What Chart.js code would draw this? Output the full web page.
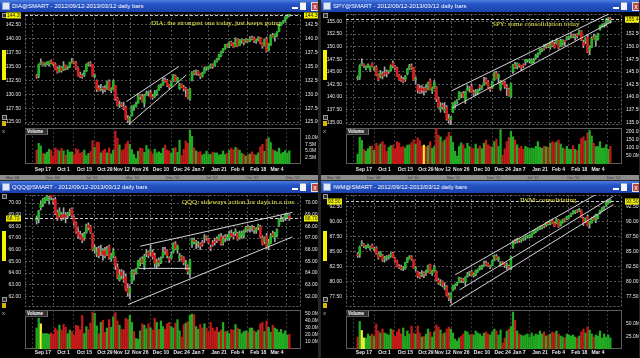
<!DOCTYPE html>
<html><head><meta charset="utf-8">
<script src="https://cdn.jsdelivr.net/npm/chart.js@4.4.1/dist/chart.umd.min.js"></script>
<style>
html,body{margin:0;padding:0;}
body{width:640px;height:358px;overflow:hidden;background:#262626;position:relative;font-family:'Liberation Sans',Arial,sans-serif;}
.win{position:absolute;width:318px;height:180px;background:#000;overflow:hidden;}
.title{position:absolute;left:0;top:0;width:318px;height:12px;background:linear-gradient(#4c7fe2 0%,#2553c6 35%,#1b42ab 100%);}
.tt{position:absolute;left:12px;top:2px;font-size:6px;line-height:8px;color:#fff;white-space:nowrap;}
.ico{position:absolute;left:2px;top:2px;width:6px;height:6px;background:#dfe8f8;border:1px solid #8aa0d0;}
.bmin{position:absolute;left:292px;top:7px;width:6px;height:2px;background:#fff;}
.bmax{position:absolute;left:300px;top:2px;width:6px;height:7px;background:#f4f6fb;border-top:1px solid #9ab;}
.bcls{position:absolute;left:311px;top:2px;width:6px;height:7px;background:#b84a4a;border:1px solid #ddd;color:#fff;font-size:7px;line-height:7px;text-align:center;}
.gsq{position:absolute;left:2px;width:3px;height:3px;border:1px solid #9a9a9a;background:#303030;}
.gbar{position:absolute;left:2px;top:50px;width:4px;height:30px;background:#f4f400;}
.glock{position:absolute;left:2px;width:4px;height:5px;background:#d8b800;}
.gx{position:absolute;left:2px;font-size:6px;color:#bbb;line-height:6px;}
.vlab{position:absolute;left:25px;width:20px;height:5px;background:#2e2e2e;border-right:1px solid #777;border-bottom:1px solid #555;color:#fff;font-size:4.5px;line-height:5px;font-weight:bold;padding-left:2px;}
.note{position:absolute;font-family:'Liberation Serif','Times New Roman',serif;font-size:7px;line-height:8px;color:#f0f055;white-space:nowrap;}
.scroll{position:absolute;left:0;width:318px;height:5px;background:#8c8c8c;}
.scroll span{position:absolute;top:0;font-size:4px;line-height:5px;color:#333;}
canvas{position:absolute;left:0;}
</style></head><body>
<script>
// ---------- categories (trading days) ----------
const DATES = ['Sep 12','Sep 13','Sep 14','Sep 17','Sep 18','Sep 19','Sep 20','Sep 21','Sep 24','Sep 25','Sep 26','Sep 27','Sep 28',
'Oct 1','Oct 2','Oct 3','Oct 4','Oct 5','Oct 8','Oct 9','Oct 10','Oct 11','Oct 12','Oct 15','Oct 16','Oct 17','Oct 18','Oct 19','Oct 22','Oct 23','Oct 24','Oct 25','Oct 26','Oct 31',
'Nov 1','Nov 2','Nov 5','Nov 6','Nov 7','Nov 8','Nov 9','Nov 12','Nov 13','Nov 14','Nov 15','Nov 16','Nov 19','Nov 20','Nov 21','Nov 23','Nov 26','Nov 27','Nov 28','Nov 29','Nov 30',
'Dec 3','Dec 4','Dec 5','Dec 6','Dec 7','Dec 10','Dec 11','Dec 12','Dec 13','Dec 14','Dec 17','Dec 18','Dec 19','Dec 20','Dec 21','Dec 24','Dec 26','Dec 27','Dec 28','Dec 31',
'Jan 2','Jan 3','Jan 4','Jan 7','Jan 8','Jan 9','Jan 10','Jan 11','Jan 14','Jan 15','Jan 16','Jan 17','Jan 18','Jan 22','Jan 23','Jan 24','Jan 25','Jan 28','Jan 29','Jan 30','Jan 31',
'Feb 1','Feb 4','Feb 5','Feb 6','Feb 7','Feb 8','Feb 11','Feb 12','Feb 13','Feb 14','Feb 15','Feb 19','Feb 20','Feb 21','Feb 22','Feb 25','Feb 26','Feb 27','Feb 28',
'Mar 1','Mar 4','Mar 5','Mar 6','Mar 7','Mar 8','Mar 11','Mar 12'];
const TICK_LABELS = ['Sep 17','Oct 1','Oct 15','Oct 29','Nov 12','Nov 26','Dec 10','Dec 24','Jan 7','Jan 21','Feb 4','Feb 18','Mar 4'];
const TICK_POS = [3,13,23,33,41,50,60,70,78,88,97,107,116];
const SCROLL_LABELS = ["Mar '06","Dec '08","Jul '10","Mar '12","Dec '12","Jul '12","Oct '12","Dec '12"];

// ---------- DIA ----------
const DIA_O = [133.3,133.3,135.4,135.7,135.3,135.5,135.4,136.0,135.6,135.5,134.6,134.1,134.8,
134.4,135.2,134.8,134.9,135.8,135.9,135.7,134.6,133.5,133.3,133.4,134.2,135.4,135.5,135.4,133.3,132.5,131.1,130.9,131.1,131.1,
131.0,132.3,130.7,131.0,131.6,129.3,128.0,128.2,127.8,127.7,125.7,125.3,126.1,127.8,127.8,128.4,129.9,129.6,128.4,129.9,130.2,
130.3,129.6,129.5,130.1,130.8,131.5,131.7,132.6,132.5,131.7,131.4,132.4,133.3,132.4,131.0,131.8,131.3,131.0,130.8,129.2,
132.5,134.0,133.8,134.2,133.7,133.2,133.9,134.6,134.8,134.9,135.3,135.1,135.9,136.4,137.0,137.7,138.2,138.9,138.7,139.4,139.0,
138.6,139.9,138.8,139.7,139.8,139.4,139.8,139.6,140.2,140.1,139.6,139.8,140.2,139.2,138.8,140.0,137.9,138.9,140.6,
140.3,140.7,141.3,142.4,142.9,143.2,143.8,144.3];
const DIA_H = [133.6,135.5,136.4,135.8,135.7,135.9,136.0,136.2,135.8,135.7,134.9,135.2,135.0,
135.9,135.3,135.1,135.8,136.5,136.0,135.9,134.8,134.0,133.7,134.3,135.5,135.8,135.9,135.4,133.7,132.6,131.6,131.8,131.4,131.6,
132.4,132.6,131.2,132.6,131.6,129.5,128.8,128.5,128.6,127.9,126.2,126.0,128.0,128.1,128.6,130.1,130.0,130.0,130.0,130.6,130.6,
130.8,130.0,130.7,130.8,131.7,131.9,133.0,133.0,132.7,131.8,132.4,133.6,133.5,133.1,132.0,131.9,131.6,131.3,130.9,131.1,
134.1,134.3,134.4,134.3,133.8,134.0,134.9,134.9,135.1,135.5,135.5,136.1,136.5,137.2,137.8,138.3,139.0,139.1,139.5,139.6,139.3,
140.2,140.0,139.9,140.0,139.9,140.0,139.9,140.4,140.5,140.3,140.0,140.4,140.3,139.3,140.0,140.3,139.2,140.8,141.0,
140.9,141.3,142.6,143.0,143.3,144.0,144.5,144.5];
const DIA_L = [132.9,133.0,135.3,135.2,135.1,135.3,135.1,135.5,135.2,134.4,133.8,134.0,134.0,
134.3,134.4,134.5,134.8,135.6,135.5,134.5,133.3,133.0,132.9,133.2,134.1,135.1,135.1,133.2,133.0,130.5,130.6,130.6,130.2,130.5,
130.9,130.7,130.3,130.9,128.9,127.9,127.6,127.8,127.2,125.5,124.9,124.6,126.1,127.1,127.7,128.4,129.1,128.6,127.7,129.8,129.7,
129.5,129.1,129.4,129.8,130.7,131.2,131.6,132.2,131.4,131.0,131.3,132.3,132.3,132.1,130.9,131.2,130.6,129.6,129.2,128.9,
132.4,133.5,133.5,133.4,132.8,133.1,133.8,134.3,134.5,134.7,134.7,135.0,135.8,136.2,136.8,137.5,138.1,138.5,138.4,138.8,138.4,
138.6,138.6,138.8,139.2,138.9,139.3,139.4,139.5,139.8,139.3,139.2,139.6,139.1,138.3,138.7,137.7,137.8,138.8,140.3,
139.6,140.4,141.3,142.4,142.8,143.0,143.7,144.0];
const DIA_C = [133.2,135.3,135.8,135.4,135.5,135.7,135.9,135.7,135.5,134.5,134.0,134.8,134.3,
135.1,134.7,134.9,135.7,136.0,135.7,134.6,133.4,133.2,133.2,134.1,135.4,135.5,135.4,133.3,133.4,130.9,130.7,130.9,131.0,130.9,
132.2,130.8,131.0,132.4,129.2,128.0,128.1,128.1,127.5,125.6,125.3,125.8,127.9,127.8,128.3,130.0,129.6,128.7,129.8,130.1,130.2,
129.6,129.4,130.2,130.7,131.5,131.6,132.4,132.4,131.6,131.3,132.3,133.4,132.4,133.0,131.8,131.3,131.0,130.9,129.3,131.0,
134.0,133.8,134.3,133.7,133.2,133.8,134.6,134.8,135.0,135.3,135.0,135.9,136.4,137.0,137.7,138.2,138.9,138.7,139.4,139.0,138.5,
140.0,138.7,139.7,139.8,139.3,139.8,139.6,140.1,140.1,139.6,139.7,140.2,139.2,138.7,139.9,137.8,138.9,140.6,140.4,
140.8,141.2,142.4,142.9,143.2,143.9,144.4,144.3];
const DIA_V = [5.2,7.8,6.8,4.0,3.8,4.5,5.6,5.2,3.2,6.1,5.4,4.9,5.9,
5.0,3.4,5.3,4.5,4.6,3.5,5.8,5.4,4.0,4.5,5.3,3.2,4.0,4.7,8.8,6.3,8.3,8.2,4.2,5.0,5.6,
4.2,6.0,3.8,5.2,12.4,9.8,7.2,5.1,5.5,7.6,8.6,7.4,5.4,3.6,2.1,4.8,6.0,5.8,4.4,7.0,5.6,
4.9,3.8,5.6,4.2,4.6,4.0,6.0,7.1,5.3,4.9,4.0,5.9,6.2,4.4,9.0,3.2,5.5,8.7,7.8,12.8,
10.5,6.1,5.0,4.4,4.7,3.4,3.8,4.9,3.6,3.7,4.5,4.2,4.2,3.4,3.6,4.9,3.6,4.0,5.2,6.0,5.4,
6.3,5.8,5.2,4.0,3.6,3.0,3.5,3.8,4.6,3.6,3.4,4.2,6.5,7.5,4.8,9.4,9.9,8.1,5.4,
5.0,4.6,6.0,3.9,4.4,5.1,4.1,5.0];
const DIA_TICKS = [125,127.5,130,132.5,135,137.5,140,142.5];
const DIA_VTICKS = [2.5,5,7.5,10];
const DIA_LINES = [[43.3,128.7,68.6,135.0],[44.5,124.6,72.3,133.5]];

// ---------- SPY ----------
const SPY_O = [143.7,143.9,146.3,146.5,145.7,146.2,145.5,146.7,145.4,145.9,144.4,144.0,144.6,
144.8,145.0,145.1,145.3,146.8,146.1,145.7,144.4,143.6,143.5,143.5,144.6,145.6,146.2,145.8,143.5,142.3,141.7,141.8,141.6,141.8,
141.5,143.4,141.2,141.8,142.0,139.7,137.7,138.4,137.3,138.0,135.7,135.5,137.0,138.8,139.0,139.6,140.6,140.7,139.5,141.4,141.6,
142.1,141.0,140.9,140.9,142.2,141.6,142.3,143.5,143.0,141.9,141.8,143.4,144.8,143.8,141.6,142.9,142.9,142.1,141.5,140.1,
145.1,146.4,146.1,146.4,146.2,146.3,147.0,147.3,147.2,146.7,147.1,147.7,148.3,148.7,149.3,149.7,150.0,150.4,149.9,150.8,150.4,
150.6,151.2,150.0,150.7,151.2,151.5,151.8,151.9,152.3,151.9,152.4,152.4,153.1,150.8,151.1,151.9,149.3,149.9,151.9,
151.2,151.6,153.4,154.3,154.2,154.9,154.9,155.5];
const SPY_H = [144.2,146.4,147.6,146.6,146.2,146.6,146.2,146.8,146.0,146.2,144.6,145.3,145.0,
146.0,145.4,145.3,146.4,147.2,146.3,145.9,144.5,144.2,143.9,144.3,145.7,146.5,146.6,145.9,144.0,142.5,142.3,142.3,142.0,142.5,
143.0,143.6,142.0,143.3,142.1,140.0,138.9,138.8,138.9,138.3,136.6,136.2,138.9,139.2,139.5,141.1,140.9,141.1,141.2,142.3,142.1,
142.6,141.4,141.5,141.6,142.4,142.3,143.9,143.8,143.3,142.0,143.2,145.0,145.1,144.6,143.3,143.1,143.2,142.5,141.8,142.8,
146.5,146.9,146.8,146.6,146.3,146.6,147.5,147.5,147.6,147.6,147.7,148.5,148.8,149.6,149.7,150.4,150.5,150.7,151.0,151.3,150.9,
151.6,151.3,151.5,151.4,151.3,152.0,152.1,152.6,152.5,152.5,152.6,153.3,153.2,151.3,151.8,152.4,150.2,152.0,152.5,
152.2,152.7,154.2,154.5,154.7,155.6,155.8,155.8];
const SPY_L = [143.4,143.5,146.2,145.9,145.4,145.9,145.1,146.0,145.3,144.2,143.2,143.8,143.6,
144.2,144.0,144.7,145.2,145.8,145.4,144.1,143.3,143.1,142.8,143.1,144.4,145.5,145.5,143.3,142.6,140.8,140.7,140.8,140.4,141.0,
141.4,141.4,140.7,141.7,139.1,137.8,137.0,137.7,136.9,135.4,134.8,134.4,136.9,137.8,138.6,139.5,139.9,139.9,138.7,141.3,141.0,
140.9,140.3,140.4,140.6,141.2,141.5,142.3,142.6,141.8,141.1,141.7,143.3,143.6,142.9,141.3,142.6,141.7,140.3,140.2,139.9,
144.7,145.7,145.6,145.9,145.2,145.8,146.4,146.9,146.8,146.6,146.8,147.5,147.9,148.5,149.0,149.3,149.7,149.8,149.5,150.0,149.7,
150.5,149.5,150.0,150.3,150.2,151.3,151.4,151.7,151.8,151.3,151.7,152.3,151.2,149.8,150.6,148.8,148.4,149.8,151.5,
150.1,151.3,153.3,153.9,153.9,154.1,154.8,154.7];
const SPY_C = [143.8,146.1,146.7,146.2,146.0,146.2,146.1,146.1,145.8,144.3,143.4,144.8,144.2,
144.5,144.7,145.2,146.2,146.2,145.7,144.2,143.4,143.4,143.0,144.1,145.6,146.2,145.8,143.4,143.5,141.4,141.0,141.4,141.3,141.3,
142.9,141.5,141.8,142.9,139.6,137.9,138.1,138.1,137.6,135.6,135.4,136.1,138.8,138.9,139.2,141.0,140.7,140.0,141.1,141.7,141.7,
141.0,140.8,141.0,141.5,141.9,142.0,142.9,142.9,142.0,141.5,143.1,144.8,143.7,144.5,143.1,142.8,142.1,141.9,140.3,142.7,
146.4,146.0,146.7,146.3,145.8,146.2,147.3,147.3,147.2,147.3,147.4,148.2,148.7,149.4,149.6,149.6,150.4,150.1,150.9,150.3,149.9,
151.4,149.7,151.2,151.3,151.0,151.9,151.8,152.0,152.1,152.2,152.1,153.2,151.3,150.3,151.7,148.9,149.8,151.7,151.6,
152.0,152.6,154.1,154.3,154.5,155.2,155.7,155.4];
const SPY_V = [62,168,148,90,80,96,110,112,85,130,115,126,140,
120,80,105,115,118,95,140,132,104,110,100,118,120,133,151,126,163,146,112,118,108,
115,140,98,110,222,180,170,140,150,170,198,175,135,80,50,110,132,120,96,130,110,
102,96,125,96,112,96,130,150,120,110,105,140,155,110,215,55,95,140,165,205,
170,150,120,100,110,92,110,104,96,100,96,110,140,104,98,112,108,104,130,140,132,
138,150,125,100,93,110,90,92,115,92,85,124,160,170,145,195,210,175,130,
108,110,140,98,100,120,92,110];
const SPY_TICKS = [135,137.5,140,142.5,145,147.5,150,152.5,155];
const SPY_VTICKS = [50,100,150,200];
const SPY_LINES = [[45.6,141.3,122.7,156.8],[45.6,137.8,122.7,155.0]];

// ---------- QQQ ----------
const QQQ_O = [68.5,68.7,69.6,69.9,70.1,70.3,70.2,70.7,70.2,70.3,69.2,68.9,69.0,
69.0,69.0,68.9,69.2,69.5,68.8,68.3,67.5,67.3,67.1,67.0,67.5,68.1,68.0,67.4,66.0,65.6,66.1,65.9,65.9,65.9,
65.6,66.3,65.2,65.5,65.3,64.5,63.4,64.1,63.5,63.7,62.7,62.3,63.2,64.1,64.0,64.4,64.9,65.2,64.6,65.6,65.8,
65.8,65.8,65.5,64.7,65.1,64.9,65.4,66.0,65.9,65.3,65.3,65.8,66.5,66.0,65.2,65.4,65.3,64.8,64.6,64.0,
66.4,66.8,66.6,66.4,66.5,66.6,67.0,67.1,66.9,66.2,66.6,66.7,66.9,66.9,67.1,66.6,67.1,66.9,67.0,67.4,67.2,
67.4,67.4,67.0,67.3,67.2,67.7,67.9,67.8,67.8,67.9,67.6,67.9,68.0,67.0,66.7,67.2,66.3,66.6,67.4,
67.0,67.3,68.1,68.6,68.6,68.8,68.8,68.9];
const QQQ_H = [68.9,69.4,70.2,70.4,70.5,70.8,70.6,70.9,70.4,70.5,69.4,69.6,69.2,
69.6,69.2,69.2,69.5,69.6,68.9,68.4,67.9,67.6,67.4,67.5,68.2,68.3,68.1,67.4,66.4,66.2,66.3,66.4,66.1,66.2,
66.3,66.4,65.7,66.1,65.4,64.8,64.3,64.3,64.2,63.9,63.1,62.9,64.3,64.3,64.4,65.1,65.3,65.4,65.6,66.0,65.9,
66.4,66.0,65.7,65.2,65.3,65.4,66.2,66.2,66.0,65.4,65.8,66.6,66.7,66.4,65.7,65.5,65.4,65.1,64.7,65.2,
67.0,67.0,66.8,66.7,66.6,66.8,67.3,67.2,67.0,66.4,66.8,67.0,67.1,67.3,67.4,67.2,67.3,67.3,67.6,67.7,67.5,
67.8,67.5,67.6,67.6,67.7,68.0,68.1,68.0,68.1,68.0,67.9,68.2,68.1,67.2,67.1,67.4,66.9,67.4,67.6,
67.5,67.8,68.7,68.9,68.8,69.1,69.1,69.0];
const QQQ_L = [68.2,68.3,69.4,69.7,70.0,70.2,69.9,70.3,69.9,69.0,68.5,68.8,68.5,
68.6,68.3,68.7,68.9,68.8,68.1,67.4,67.0,66.9,66.6,66.8,67.4,67.7,67.4,65.9,65.7,65.4,65.3,65.5,65.1,65.3,
65.5,65.2,65.0,65.3,64.3,63.5,63.3,63.5,63.2,62.5,62.0,61.8,63.1,63.4,63.9,64.4,64.6,64.8,64.3,65.4,65.3,
65.5,65.2,64.5,64.4,64.6,64.8,65.3,65.6,65.3,64.9,65.2,65.7,66.0,65.7,65.0,65.1,64.7,64.3,63.9,63.6,
66.2,66.5,66.1,66.2,66.0,66.3,66.6,66.8,66.5,65.9,66.3,66.4,66.6,66.8,66.4,66.4,66.7,66.8,66.8,67.1,66.9,
67.2,66.8,66.9,67.0,67.0,67.5,67.6,67.5,67.6,67.4,67.4,67.7,67.0,66.4,66.5,66.1,66.0,66.5,67.1,
66.7,67.1,68.0,68.4,68.4,68.5,68.7,68.5];
const QQQ_C = [68.7,69.3,69.9,70.3,70.4,70.6,70.3,70.5,70.1,69.1,68.6,69.3,68.7,
68.8,68.8,69.1,69.3,68.9,68.3,67.5,67.2,67.0,66.8,67.4,68.1,67.9,67.5,66.0,66.2,65.8,65.5,65.9,65.6,65.5,
66.1,65.3,65.5,65.9,64.6,63.6,63.9,63.8,63.4,62.6,62.3,62.7,64.2,64.0,64.3,65.0,65.2,64.9,65.4,65.6,65.5,
65.9,65.4,64.8,65.0,64.9,65.2,65.8,65.9,65.5,65.1,65.6,66.5,66.1,66.3,65.5,65.2,64.9,64.8,64.1,65.1,
66.9,66.7,66.6,66.5,66.3,66.5,67.1,67.0,66.6,66.1,66.4,66.6,66.8,67.2,66.5,66.9,67.0,67.1,67.4,67.2,67.1,
67.6,66.9,67.4,67.4,67.6,67.9,67.8,67.8,67.9,67.7,67.8,68.1,67.1,66.5,67.0,66.2,66.6,67.2,67.2,
67.4,67.7,68.6,68.6,68.7,68.9,69.0,68.7];
const QQQ_V = [30,44,36,22,22,22,21,23,21,30,27,34,27,
35,31,22,27,25,20,34,33,28,48,22,32,28,37,53,51,33,22,38,41,24,
30,42,31,46,52,40,34,28,28,44,42,48,38,25,15,14,26,36,34,29,36,
30,27,44,38,28,40,32,28,36,38,32,30,37,42,26,17,35,37,39,48,
50,49,32,28,35,30,36,30,24,38,30,26,31,24,27,38,25,25,22,28,27,
35,30,28,22,25,26,24,30,30,26,24,27,36,38,25,40,31,24,34,
30,28,24,28,22,26,20,21];
const QQQ_TICKS = [62,63,64,65,66,67,68,69,70];
const QQQ_VTICKS = [10,20,30,40,50];
const QQQ_LINES = [[50,66.3,123.5,69.2],[44.1,61.3,123.5,67.1],[49.3,64.4,74.2,64.4]];

// ---------- IWM ----------
const IWM_O = [84.6,84.5,86.2,86.3,85.7,86.0,85.6,86.1,85.4,85.7,84.6,84.3,84.4,
83.8,84.0,84.1,84.3,84.8,84.0,83.5,82.5,82.5,82.2,82.3,83.3,83.9,84.2,83.7,82.2,81.7,81.3,81.1,81.5,81.5,
81.7,82.9,81.4,81.9,81.8,80.3,79.7,80.1,79.0,79.2,77.8,77.3,78.6,79.3,79.6,79.9,80.5,80.3,80.0,81.0,81.4,
81.7,81.1,81.2,81.8,82.3,82.2,82.7,83.2,83.0,82.5,82.8,83.6,84.3,83.8,82.8,83.3,83.1,82.8,82.6,82.2,
85.8,86.8,86.8,87.0,86.9,87.1,87.4,87.6,87.5,87.6,88.1,88.4,88.7,88.9,89.1,89.4,89.4,89.8,89.7,90.2,89.8,
89.8,90.3,89.4,90.0,90.4,90.5,90.8,91.0,91.5,91.6,91.9,91.9,91.9,90.6,90.2,90.9,89.6,89.9,90.7,
90.3,90.8,91.4,92.0,92.3,92.8,93.1,93.5];
const IWM_H = [84.9,86.0,86.9,86.4,86.1,86.3,86.0,86.3,85.8,85.9,84.9,85.1,84.6,
84.3,84.4,84.5,84.9,85.0,84.1,83.6,82.9,82.8,82.6,83.3,84.1,84.4,84.4,83.7,82.6,81.8,81.6,81.9,81.7,82.0,
82.8,83.0,82.0,82.8,81.9,80.6,80.4,80.2,79.9,79.4,78.2,78.2,79.5,79.7,80.0,80.8,80.7,80.6,80.9,81.6,81.8,
82.0,81.5,82.0,82.2,82.7,82.8,83.5,83.5,83.2,82.8,83.6,84.5,84.6,84.2,83.4,83.4,83.2,83.2,82.8,84.3,
86.9,87.1,87.3,87.2,87.2,87.4,87.7,87.8,87.9,88.2,88.6,88.8,89.0,89.3,89.4,89.6,89.9,90.1,90.3,90.5,90.0,
90.6,90.4,90.2,90.5,90.6,91.0,91.1,91.5,91.9,92.0,92.1,92.3,92.0,90.8,90.7,91.2,90.1,90.8,91.0,
91.3,91.2,92.0,92.4,92.6,93.3,93.7,93.8];
const IWM_L = [84.1,84.1,86.0,85.7,85.5,85.7,85.3,85.6,85.2,84.6,83.8,84.2,83.4,
83.3,83.6,83.8,84.1,84.1,83.3,82.5,82.2,82.0,81.9,82.1,83.2,83.8,83.6,82.3,81.8,80.7,80.6,80.9,80.7,81.1,
81.6,81.4,81.1,81.8,80.2,79.6,79.4,79.2,78.7,77.7,76.9,76.5,78.5,78.8,79.4,79.9,79.9,79.9,79.4,80.8,81.0,
81.0,80.8,81.0,81.6,82.0,82.1,82.6,82.7,82.5,82.2,82.7,83.5,83.7,83.4,82.6,82.9,82.4,82.1,82.2,82.0,
85.6,86.4,86.5,86.6,86.6,86.9,87.0,87.3,87.3,87.4,88.0,88.2,88.5,88.7,88.8,89.0,89.2,89.5,89.5,89.7,89.2,
89.7,89.1,89.3,89.8,90.0,90.4,90.6,90.9,91.3,91.4,91.6,91.7,90.7,89.4,89.9,89.3,89.0,89.8,90.3,
89.9,90.5,91.3,91.8,92.1,92.6,93.0,93.2];
const IWM_C = [84.4,85.8,86.5,86.0,85.9,86.1,85.9,85.7,85.6,84.7,84.0,84.9,83.6,
83.9,84.1,84.3,84.6,84.2,83.5,82.6,82.4,82.2,82.3,83.2,84.0,84.2,83.8,82.4,82.3,81.0,80.8,81.4,81.3,81.5,
82.7,81.5,81.9,82.5,80.4,79.8,80.0,79.5,79.0,77.8,77.3,78.1,79.4,79.5,79.8,80.7,80.3,80.2,80.8,81.3,81.6,
81.1,81.2,81.9,82.1,82.3,82.5,83.0,82.9,82.6,82.6,83.5,84.4,83.8,84.1,83.2,83.0,82.8,82.8,82.3,84.2,
86.8,86.7,87.2,86.9,87.0,87.2,87.5,87.6,87.7,88.1,88.4,88.6,88.9,89.0,89.3,89.3,89.8,89.7,90.2,89.8,89.3,
90.4,89.2,90.1,90.4,90.3,90.9,91.0,91.4,91.6,91.9,91.8,92.0,90.8,89.8,90.6,89.4,89.9,90.6,90.4,
91.2,91.0,91.9,92.2,92.5,93.2,93.6,93.5];
const IWM_V = [24,55,37,22,22,30,26,30,25,50,36,32,40,
32,30,28,40,38,25,34,40,30,42,25,36,30,46,32,30,46,32,24,25,30,
40,34,24,34,48,44,38,30,32,40,44,40,32,20,16,22,26,30,36,34,28,
30,28,36,32,30,26,32,34,30,28,34,40,36,28,38,12,22,36,40,45,
74,57,36,30,28,26,28,30,24,32,26,30,28,36,30,34,26,28,30,34,32,
36,30,26,24,22,30,28,26,28,24,22,26,34,40,32,44,38,30,24,
28,26,36,22,30,24,28,22];
const IWM_TICKS = [77.5,80,82.5,85,87.5,90,92.5];
const IWM_VTICKS = [25,50];
const IWM_LINES = [[47.1,81.2,116.1,94.8],[49.3,78.7,123.5,94.3],[44.5,76.0,123.5,92.9]];

// ---------- layout / style ----------
const UP='#22b422', DN='#d41c1c', WICK='#a6a6a6', VUP='#23aa23', VDN='#c21a1a', VHL='#f2f030';
const GRID='rgba(150,150,150,0.55)';
const ROWS=[{pTop:14,pBot:125,vTop:128,vBot:164,datePad:3},{pTop:14,pBot:126,vTop:129,vBot:168,datePad:1}];
const PANELS=[
 {left:0,top:0,row:0,title:'DIA@SMART - 2012/09/12-2013/03/12 daily bars',note:'DIA: the strongest one today, just keeps going',noteX:151,noteY:19,
  o:DIA_O,h:DIA_H,l:DIA_L,c:DIA_C,v:DIA_V,yMin:124.48,yMax:144.48,yTicks:DIA_TICKS,vMax:13.6,vTicks:DIA_VTICKS,lines:DIA_LINES,leftLabel:true,hl:[]},
 {left:321,top:0,row:0,title:'SPY@SMART - 2012/09/12-2013/03/12 daily bars',note:'SPY: some consolidation today',noteX:171,noteY:20,
  o:SPY_O,h:SPY_H,l:SPY_L,c:SPY_C,v:SPY_V,yMin:134.46,yMax:156.49,yTicks:SPY_TICKS,vMax:225,vTicks:SPY_VTICKS,lines:SPY_LINES,leftLabel:false,hl:[32]},
 {left:0,top:181,row:1,title:'QQQ@SMART - 2012/09/12-2013/03/12 daily bars',note:'QQQ: sideways action for days in a row',noteX:182,noteY:17,
  o:QQQ_O,h:QQQ_H,l:QQQ_L,c:QQQ_C,v:QQQ_V,yMin:61.09,yMax:70.69,yTicks:QQQ_TICKS,vMax:55.7,vTicks:QQQ_VTICKS,lines:QQQ_LINES,leftLabel:true,hl:[2]},
 {left:321,top:181,row:1,title:'IWM@SMART - 2012/09/12-2013/03/12 daily bars',note:'IWM: consolidating',noteX:199,noteY:15,
  o:IWM_O,h:IWM_H,l:IWM_L,c:IWM_C,v:IWM_V,yMin:75.83,yMax:94.5,yTicks:IWM_TICKS,vMax:78,vTicks:IWM_VTICKS,lines:IWM_LINES,leftLabel:true,hl:[2,3]}
];

Chart.defaults.font.family="'Liberation Sans', Arial, sans-serif";
Chart.defaults.font.size=5;
Chart.defaults.color='#e6e6e6';

const boxPlugin={id:'box',beforeDatasetsDraw(chart,args,o){
  const {ctx,chartArea:a}=chart; ctx.save(); ctx.strokeStyle=o.color; ctx.lineWidth=1; ctx.setLineDash(o.dash||[]);
  ctx.strokeRect(Math.round(a.left)+0.5,Math.round(a.top)+0.5,Math.round(a.width)-1,Math.round(a.height)-1); ctx.restore();}};
const lastPlugin={id:'last',afterDraw(chart,args,o){
  if(o.value==null) return;
  const {ctx,chartArea:a}=chart; const y=chart.scales.y;
  const py=Math.round(y.getPixelForValue(o.value))+0.5;
  ctx.save(); ctx.strokeStyle='#c8c8c8'; ctx.lineWidth=1; ctx.setLineDash([3,2]);
  ctx.beginPath(); ctx.moveTo(a.left,py); ctx.lineTo(a.right,py); ctx.stroke(); ctx.setLineDash([]);
  const txt=o.value.toFixed(2); ctx.font="5px 'Liberation Sans', Arial"; ctx.textBaseline='middle';
  ctx.fillStyle='#f2f200'; ctx.fillRect(a.right+3,py-3,14,6); ctx.fillStyle='#222'; ctx.fillText(txt,a.right+4,py+0.5);
  if(o.left){ ctx.fillStyle='#f2f200'; ctx.fillRect(6,py-3,15,6); ctx.fillStyle='#222'; ctx.fillText(txt,7,py+0.5);}
  ctx.restore();}};

function el(tag,cls,css,text,parent){const e=document.createElement(tag); if(cls)e.className=cls; if(css)e.style.cssText=css; if(text!=null)e.textContent=text; parent.appendChild(e); return e;}
function fixW(w){return s=>{s.width=w;s.paddingTop=0;s.paddingBottom=0;};}

PANELS.forEach(P=>{
  const G=ROWS[P.row];
  const n=P.c.length, idx=[...Array(n).keys()];
  const w=el('div','win',`left:${P.left}px;top:${P.top}px`,null,document.body);
  const t=el('div','title','',null,w);
  el('div','ico','',null,t); el('div','tt','',P.title,t); el('div','bmin','',null,t); el('div','bmax','',null,t); el('div','bcls','','x',t);
  el('div','gsq','top:13px',null,w); el('div','gbar','',null,w);
  el('div','gsq',`top:${G.vTop-13}px`,null,w); el('div','glock',`top:${G.vTop-7}px`,null,w); el('div','gx',`top:${G.vTop}px`,'x',w);

  // price pane
  const pc=document.createElement('canvas'); const pH=(G.pBot-G.pTop)+8;
  pc.width=318; pc.height=pH; pc.style.cssText=`top:${G.pTop-4}px;width:318px;height:${pH}px`; w.appendChild(pc);
  const wick=idx.map(i=>({x:i,y:[P.l[i],P.h[i]]}));
  const body=idx.map(i=>({x:i,y:[P.o[i],P.c[i]]}));
  const bodyCol=idx.map(i=>P.c[i]>=P.o[i]?UP:DN);
  const lineSets=P.lines.map(L=>({type:'line',data:[{x:L[0],y:L[1]},{x:L[2],y:L[3]}],borderColor:'#d4d4d4',borderWidth:1,pointRadius:0,order:0}));
  const yt=P.yTicks.map(v=>({value:v}));
  new Chart(pc,{type:'bar',
    data:{datasets:[{data:wick,backgroundColor:WICK,barThickness:1,grouped:false,order:2},
                    {data:body,backgroundColor:bodyCol,barThickness:2,grouped:false,minBarLength:1,order:1},...lineSets]},
    options:{animation:false,responsive:false,events:[],devicePixelRatio:1,
      layout:{padding:{top:4,bottom:4,left:0,right:0}},
      plugins:{legend:{display:false},tooltip:{enabled:false},box:{color:'#6a6a6a',dash:[2,2]},last:{value:P.c[n-1],left:P.leftLabel}},
      scales:{
        x:{type:'linear',min:-0.5,max:n-0.5,afterBuildTicks:s=>{s.ticks=TICK_POS.map(v=>({value:v}));},
           afterFit:s=>{s.height=0;s.paddingLeft=0;s.paddingRight=0;},ticks:{display:false},grid:{color:GRID,drawTicks:false},border:{display:false,dash:[2,2]}},
        y:{position:'left',min:P.yMin,max:P.yMax,afterBuildTicks:s=>{s.ticks=yt.map(o=>({...o}));},afterFit:fixW(25),
           ticks:{padding:4,autoSkip:false,callback:v=>v.toFixed(2)},grid:{color:GRID,drawTicks:false},border:{display:false,dash:[2,2]}},
        y2:{position:'right',min:P.yMin,max:P.yMax,afterBuildTicks:s=>{s.ticks=yt.map(o=>({...o}));},afterFit:fixW(17),
           ticks:{padding:4,autoSkip:false,callback:v=>v.toFixed(2)},grid:{display:false,drawTicks:false},border:{display:false}}
      }},
    plugins:[boxPlugin,lastPlugin]});

  // volume pane
  const vc=document.createElement('canvas'); const vH=4+(G.vBot-G.vTop)+12;
  vc.width=318; vc.height=vH; vc.style.cssText=`top:${G.vTop-4}px;width:318px;height:${vH}px`; w.appendChild(vc);
  const vol=idx.map(i=>({x:i,y:P.v[i]}));
  const volCol=idx.map(i=>P.hl.includes(i)?VHL:(P.c[i]>=P.o[i]?VUP:VDN));
  const vt=P.vTicks.map(v=>({value:v}));
  new Chart(vc,{type:'bar',
    data:{datasets:[{data:vol,backgroundColor:volCol,barThickness:1.6,grouped:false}]},
    options:{animation:false,responsive:false,events:[],devicePixelRatio:1,
      layout:{padding:{top:4,bottom:0,left:0,right:0}},
      plugins:{legend:{display:false},tooltip:{enabled:false},box:{color:'#5e5e5e'}},
      scales:{
        x:{type:'linear',min:-0.5,max:n-0.5,afterBuildTicks:s=>{s.ticks=TICK_POS.map(v=>({value:v}));},
           afterFit:s=>{s.height=12;s.paddingLeft=0;s.paddingRight=0;},
           ticks:{padding:G.datePad,autoSkip:false,maxRotation:0,font:{weight:'bold'},callback:(v,i)=>TICK_LABELS[i]},
           grid:{color:'rgba(140,140,140,0.4)',drawTicks:false},border:{display:false,dash:[2,2]}},
        y:{position:'left',min:0,max:P.vMax,afterFit:fixW(25),ticks:{display:false},grid:{display:false,drawTicks:false},border:{display:false}},
        y2:{position:'right',min:0,max:P.vMax,afterBuildTicks:s=>{s.ticks=vt.map(o=>({...o}));},afterFit:fixW(17),
           ticks:{padding:4,autoSkip:false,callback:v=>v.toFixed(1)+'M'},grid:{display:false,drawTicks:false},border:{display:false}}
      }},
    plugins:[boxPlugin]});

  el('div','vlab',`top:${G.vTop+1}px`,'Volume',w);
  el('div','note',`left:${P.noteX}px;top:${P.noteY}px`,P.note,w);
  const sb=el('div','scroll',`top:${G.vBot+11}px`,null,w);
  SCROLL_LABELS.forEach((s,i)=>el('span','',`left:${6+i*40}px`,s,sb));
});
</script>
</body></html>
